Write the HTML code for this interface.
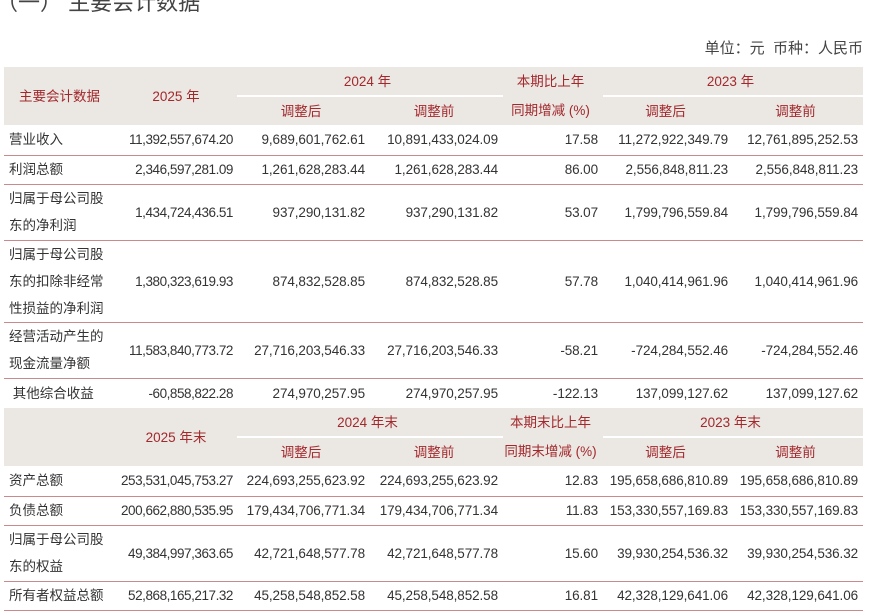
<!DOCTYPE html>
<html><head><meta charset="utf-8"><style>
body{margin:0;width:879px;height:615px;overflow:hidden;background:#fff;font-family:"Liberation Sans","Noto Sans CJK SC",sans-serif;color:#333;position:relative}
.title{position:absolute;left:-4px;top:-15px;font-size:22px;color:#444;white-space:nowrap}
.unit{position:absolute;right:16px;top:37px;font-size:15px;color:#444}
table{position:absolute;left:4px;top:67px;border-collapse:collapse;table-layout:fixed;width:859px;font-size:13.5px}
td{padding:0 5px 0 0;text-align:right;white-space:nowrap;border-bottom:1px solid #c98a8e;line-height:27px;overflow:visible;letter-spacing:-0.1px}
tr:not(.h) td:nth-child(2){letter-spacing:-0.45px;padding-right:4px}
td.l{text-align:left;padding-left:5px;letter-spacing:0}
tr.h td{background:#ebe7e3;color:#a3282c;text-align:center;border-bottom:none;font-size:13.5px;letter-spacing:0}
tr.h2 td{border-top:2px solid #fff}
.nb td{border-bottom:none}
</style></head><body>
<div class="title">（一） 主要会计数据</div>
<div class="unit">单位：元&nbsp; 币种：人民币</div>
<table>
<colgroup><col style="width:116px"><col style="width:117px"><col style="width:133px"><col style="width:133px"><col style="width:100px"><col style="width:130px"><col style="width:130px"></colgroup>
<tr class="h" style="height:29px"><td rowspan="2">主要会计数据</td><td rowspan="2">2025 年</td><td colspan="2">2024 年</td><td>本期比上年</td><td colspan="2">2023 年</td></tr>
<tr class="h h2" style="height:29px"><td>调整后</td><td>调整前</td><td style="border-top:none">同期增减 (%)</td><td>调整后</td><td>调整前</td></tr>
<tr style="height:30px"><td class="l">营业收入</td><td>11,392,557,674.20</td><td>9,689,601,762.61</td><td>10,891,433,024.09</td><td>17.58</td><td>11,272,922,349.79</td><td>12,761,895,252.53</td></tr>
<tr style="height:29px"><td class="l">利润总额</td><td>2,346,597,281.09</td><td>1,261,628,283.44</td><td>1,261,628,283.44</td><td>86.00</td><td>2,556,848,811.23</td><td>2,556,848,811.23</td></tr>
<tr style="height:56px"><td class="l">归属于母公司股<br>东的净利润</td><td>1,434,724,436.51</td><td>937,290,131.82</td><td>937,290,131.82</td><td>53.07</td><td>1,799,796,559.84</td><td>1,799,796,559.84</td></tr>
<tr style="height:80px"><td class="l">归属于母公司股<br>东的扣除非经常<br>性损益的净利润</td><td>1,380,323,619.93</td><td>874,832,528.85</td><td>874,832,528.85</td><td>57.78</td><td>1,040,414,961.96</td><td>1,040,414,961.96</td></tr>
<tr style="height:56px"><td class="l">经营活动产生的<br>现金流量净额</td><td>11,583,840,773.72</td><td>27,716,203,546.33</td><td>27,716,203,546.33</td><td>-58.21</td><td>-724,284,552.46</td><td>-724,284,552.46</td></tr>
<tr class="nb" style="height:30px"><td class="l">&nbsp;其他综合收益</td><td>-60,858,822.28</td><td>274,970,257.95</td><td>274,970,257.95</td><td>-122.13</td><td>137,099,127.62</td><td>137,099,127.62</td></tr>
<tr class="h" style="height:29px"><td rowspan="2"></td><td rowspan="2">2025 年末</td><td colspan="2">2024 年末</td><td>本期末比上年</td><td colspan="2">2023 年末</td></tr>
<tr class="h h2" style="height:29px"><td>调整后</td><td>调整前</td><td style="border-top:none">同期末增减 (%)</td><td>调整后</td><td>调整前</td></tr>
<tr style="height:30px"><td class="l">资产总额</td><td>253,531,045,753.27</td><td>224,693,255,623.92</td><td>224,693,255,623.92</td><td>12.83</td><td>195,658,686,810.89</td><td>195,658,686,810.89</td></tr>
<tr style="height:29px"><td class="l">负债总额</td><td>200,662,880,535.95</td><td>179,434,706,771.34</td><td>179,434,706,771.34</td><td>11.83</td><td>153,330,557,169.83</td><td>153,330,557,169.83</td></tr>
<tr style="height:56px"><td class="l">归属于母公司股<br>东的权益</td><td>49,384,997,363.65</td><td>42,721,648,577.78</td><td>42,721,648,577.78</td><td>15.60</td><td>39,930,254,536.32</td><td>39,930,254,536.32</td></tr>
<tr style="height:29px"><td class="l">所有者权益总额</td><td>52,868,165,217.32</td><td>45,258,548,852.58</td><td>45,258,548,852.58</td><td>16.81</td><td>42,328,129,641.06</td><td>42,328,129,641.06</td></tr>
</table>
</body></html>
